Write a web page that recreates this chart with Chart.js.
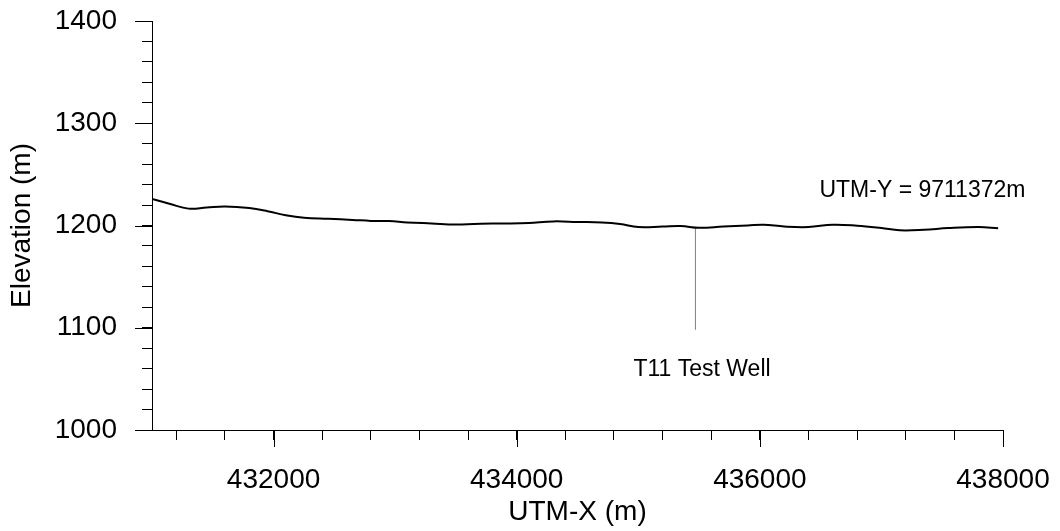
<!DOCTYPE html>
<html lang="en">
<head>
    <meta charset="UTF-8">
    <title>Elevation profile</title>
    <style>
        body { margin: 0; background-color: #ffffff; }
        #wrap { width: 1060px; height: 531px; }
    </style>
</head>
<body>
    <div id="wrap"><canvas id="profileChart" width="1060" height="531"></canvas></div>

    <script src="https://cdn.jsdelivr.net/npm/chart.js"></script>
    <script>
        // profile along UTM-Y = 9711372m
        const utmX = [431000, 431150, 431300, 431450, 431600, 431800, 431950, 432100, 432250, 432450,
                      432650, 432800, 432950, 433100, 433300, 433500, 433650, 433800, 433950, 434100,
                      434300, 434500, 434700, 434850, 435000, 435200, 435350, 435500, 435700, 435900,
                      436030, 436200, 436400, 436600, 436800, 437000, 437150, 437350, 437550, 437800, 437960];
        const elevation = [1226, 1221, 1216.5, 1217.5, 1218.5, 1217, 1214, 1210, 1207.5, 1206.5,
                           1205.5, 1204.5, 1204.3, 1203, 1202, 1201, 1201.5, 1202, 1202, 1202.5,
                           1204, 1203.5, 1203, 1201.5, 1198.5, 1199, 1199.5, 1197.8, 1199, 1200,
                           1200.8, 1199, 1198.5, 1200.8, 1199.8, 1197.5, 1195.3, 1195.8, 1197.5, 1198.5, 1197.3];

        // test well marker
        const wellX = [435470, 435470];
        const wellY = [1098, 1197];

        const xMajor = [432000, 434000, 436000, 438000];
        const yMajor = [1000, 1100, 1200, 1300, 1400];
        const xMinorStep = 400;
        const yMinorStep = 20;

        const labels = [
            { text: 'UTM-Y = 9711372m', x: 436490, y: 1234 },
            { text: 'T11 Test Well', x: 434960, y: 1059 }
        ];

        const FONT = "'Liberation Sans', Arial, sans-serif";

        function stepTicks(min, max, step) {
            const out = [];
            for (let v = Math.ceil(min / step) * step; v <= max; v += step) {
                out.push({ value: v });
            }
            return out;
        }

        // longer ticks for the labelled values, plus the text notes
        const extras = {
            id: 'extras',
            afterDraw(chart) {
                const ctx = chart.ctx;
                const xs = chart.scales.x, ys = chart.scales.y;
                ctx.save();
                ctx.strokeStyle = '#000';
                ctx.lineWidth = 1;
                ctx.beginPath();
                xMajor.forEach(v => {
                    const px = Math.round(xs.getPixelForValue(v)) + 0.5;
                    ctx.moveTo(px, xs.top);
                    ctx.lineTo(px, xs.top + 17);
                });
                yMajor.forEach(v => {
                    const py = Math.round(ys.getPixelForValue(v)) + 0.5;
                    ctx.moveTo(ys.right, py);
                    ctx.lineTo(ys.right - 17, py);
                });
                ctx.stroke();

                ctx.fillStyle = '#000';
                ctx.font = '23px ' + FONT;
                ctx.textAlign = 'left';
                ctx.textBaseline = 'middle';
                labels.forEach(l => {
                    ctx.fillText(l.text, xs.getPixelForValue(l.x), ys.getPixelForValue(l.y));
                });
                ctx.restore();
            }
        };

        const chart = new Chart(document.getElementById('profileChart').getContext('2d'), {
            type: 'line',
            data: {
                datasets: [
                    {
                        label: 'Elevation',
                        data: utmX.map((x, i) => ({ x: x, y: elevation[i] })),
                        borderColor: '#000000',
                        borderWidth: 2,
                        pointRadius: 0,
                        tension: 0.4,
                        fill: false
                    },
                    {
                        label: 'T11 Test Well',
                        data: wellX.map((x, i) => ({ x: x, y: wellY[i] })),
                        borderColor: '#808080',
                        borderWidth: 1,
                        pointRadius: 0,
                        tension: 0,
                        fill: false
                    }
                ]
            },
            options: {
                responsive: false,
                animation: false,
                layout: { padding: { top: 21, right: 57, left: 0, bottom: 0 } },
                plugins: { legend: { display: false }, tooltip: { enabled: false } },
                scales: {
                    x: {
                        type: 'linear',
                        min: 431000,
                        max: 438000,
                        afterBuildTicks: s => { s.ticks = stepTicks(431001, 438000, xMinorStep); },
                        afterFit: s => { s.height = 101; s.paddingLeft = 0; s.paddingRight = 0; },
                        grid: { drawOnChartArea: false, tickLength: 10, color: '#000', lineWidth: 1 },
                        border: { color: '#000', width: 1 },
                        ticks: {
                            autoSkip: false,
                            maxRotation: 0,
                            padding: 23,
                            color: '#000',
                            font: { family: FONT, size: 28 },
                            callback: v => xMajor.includes(v) ? String(v) : ''
                        },
                        title: {
                            display: true,
                            text: 'UTM-X (m)',
                            color: '#000',
                            font: { family: FONT, size: 28 },
                            padding: { top: 0, bottom: 2 }
                        }
                    },
                    y: {
                        min: 1000,
                        max: 1400,
                        afterBuildTicks: s => { s.ticks = stepTicks(1000, 1400, yMinorStep); },
                        afterFit: s => { s.width = 152; s.paddingTop = 0; s.paddingBottom = 0; },
                        grid: { drawOnChartArea: false, tickLength: 10, color: '#000', lineWidth: 1 },
                        border: { color: '#000', width: 1 },
                        ticks: {
                            autoSkip: false,
                            padding: 25,
                            color: '#000',
                            font: { family: FONT, size: 28 },
                            callback: v => yMajor.includes(v) ? String(v) : ''
                        },
                        title: {
                            display: true,
                            text: 'Elevation (m)',
                            color: '#000',
                            font: { family: FONT, size: 28 },
                            padding: { top: 5, bottom: 0 }
                        }
                    }
                }
            },
            plugins: [extras]
        });
    </script>
</body>
</html>
